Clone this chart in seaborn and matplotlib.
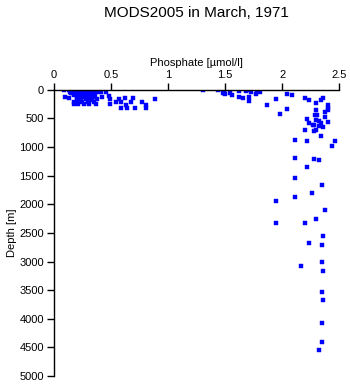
import matplotlib
matplotlib.use("Agg")
import matplotlib.pyplot as plt
import seaborn as sns
import pandas as pd

sns.set_style("ticks")
plt.rcParams['font.family'] = ['Liberation Sans', 'DejaVu Sans']
plt.rcParams['text.color'] = 'black'
plt.rcParams['axes.labelcolor'] = 'black'
plt.rcParams['xtick.color'] = 'black'
plt.rcParams['ytick.color'] = 'black'

title = "MODS2005 in March, 1971"
xlabel = "Phosphate [\u00b5mol/l]"
ylabel = "Depth [m]"
x_ticks = [0, 0.5, 1, 1.5, 2, 2.5]
x_ticklabels = ["0", "0.5", "1", "1.5", "2", "2.5"]
y_ticks = list(range(0, 5001, 500))

# surface cluster (low phosphate)
phos_a = [0.09, 0.13, 0.15, 0.17, 0.19, 0.21, 0.23, 0.25, 0.27, 0.29, 0.31,
          0.14, 0.16, 0.18, 0.20, 0.22, 0.24, 0.26, 0.28, 0.30, 0.32, 0.34,
          0.15, 0.17, 0.19, 0.21, 0.23, 0.25, 0.27, 0.29, 0.31, 0.33, 0.36,
          0.18, 0.20, 0.22, 0.24, 0.26, 0.28, 0.30, 0.33, 0.35,
          0.10, 0.20, 0.23, 0.26, 0.29, 0.32, 0.36,
          0.13, 0.20, 0.24, 0.28, 0.33, 0.38,
          0.18, 0.21, 0.25, 0.30, 0.35,
          0.18, 0.21, 0.26, 0.31, 0.37,
          0.39, 0.41, 0.46, 0.48, 0.49, 0.49, 0.54, 0.57, 0.59, 0.62, 0.63,
          0.59, 0.64, 0.69, 0.68, 0.71, 0.77, 0.81, 0.81, 0.89, 0.42]
depth_a = [5, 10, 5, 5, 5, 5, 5, 5, 5, 5, 5,
           30, 25, 35, 30, 25, 35, 30, 25, 35, 30, 25,
           60, 55, 65, 60, 70, 55, 65, 60, 70, 55, 60,
           90, 100, 85, 95, 100, 90, 95, 100, 85,
           120, 130, 140, 120, 135, 145, 130,
           150, 170, 180, 165, 175, 160,
           210, 200, 215, 205, 210,
           250, 255, 245, 250, 255,
           45, 30, 30, 105, 158, 245, 210, 158, 210, 135, 257,
           310, 310, 135, 210, 310, 210, 257, 310, 163, 117]

# mid and deep values
phos_b = [1.31, 1.44, 1.49, 1.49, 1.50, 1.48, 1.54, 1.56, 1.62, 1.62, 1.66, 1.68,
          1.70, 1.71, 1.71, 1.73, 1.77, 1.78, 1.81, 1.87, 1.95, 1.98, 2.04, 2.04,
          2.09, 2.20, 2.24, 2.30, 2.34, 2.36, 2.40, 2.40, 2.40, 2.38, 2.30, 2.29,
          2.31, 2.38, 2.22, 2.30, 2.32, 2.40, 2.24, 2.27, 2.28, 2.34, 2.32, 2.36,
          2.20, 2.30, 2.28, 2.34, 2.46, 2.11, 2.22, 2.44, 2.11, 2.28, 2.32, 2.22,
          2.11, 2.35, 2.26, 2.11, 1.95, 2.38, 2.30, 1.95, 2.20, 2.36, 2.24, 2.35,
          2.35, 2.17, 2.36, 2.35, 2.36, 2.35, 2.35, 2.32]
depth_b = [5, 5, 20, 47, 70, 60, 58, 88, 18, 128, 146, 18,
           5, 128, 198, 40, 70, 5, 35, 268, 163, 425, 75, 338,
           93, 140, 180, 233, 180, 140, 263, 320, 350, 390, 355, 443,
           443, 473, 513, 530, 548, 555, 583, 607, 618, 583, 635, 653,
           705, 705, 723, 810, 898, 880, 898, 985, 1195, 1213, 1230, 1353,
           1545, 1668, 1808, 1878, 1937, 2105, 2263, 2333, 2322, 2550, 2683, 2713,
           3015, 3085, 3173, 3540, 3680, 4083, 4410, 4550]

df = pd.DataFrame({"phosphate": phos_a + phos_b, "depth": depth_a + depth_b})

fig = plt.figure(figsize=(3.5, 3.84), dpi=100)
ax = fig.add_axes([0.154, 0.021, 0.815, 0.745])
sns.scatterplot(data=df, x="phosphate", y="depth", ax=ax, marker="s",
                s=5, color="#0000ff", edgecolor="#0000ff", linewidth=0.3)

ax.set_xlim(0, 2.5)
ax.set_ylim(5000, 0)
ax.xaxis.tick_top()
ax.xaxis.set_label_position("top")
ax.set_xticks(x_ticks)
ax.set_xticklabels(x_ticklabels)
ax.set_yticks(y_ticks)
ax.set_xlabel(xlabel, fontsize=8, labelpad=3)
ax.set_ylabel(ylabel, fontsize=8, labelpad=2)
ax.tick_params(axis="both", labelsize=8, direction="out", length=5, width=1,
               color="black", pad=2)
for side in ["right", "bottom"]:
    ax.spines[side].set_visible(False)
for side in ["top", "left"]:
    ax.spines[side].set_linewidth(1)
    ax.spines[side].set_color("black")

fig.text(0.561, 0.965, title, ha="center", va="center", fontsize=11)

fig.savefig("out.png", dpi=100)
